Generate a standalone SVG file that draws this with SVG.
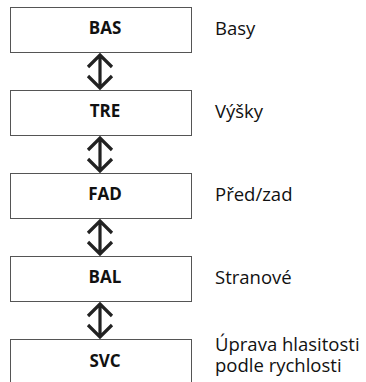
<svg xmlns="http://www.w3.org/2000/svg" width="366" height="382" viewBox="0 0 366 382">
<style>
.box{fill:#fff;stroke:#555;stroke-width:1}
.bt{font-family:"Open Sans","Noto Sans",sans-serif;font-weight:bold;font-size:17px;fill:#111;text-anchor:middle}
.lt{font-family:"Open Sans","Noto Sans",sans-serif;font-size:18.5px;fill:#111}
.arr{fill:none;stroke:#222;stroke-width:3.2;stroke-linejoin:miter;stroke-linecap:butt}
</style>
<rect width="366" height="382" fill="#fff"/>
<g id="connectors">
<path class="arr" d="M100 56V87M88 67L100 55L112 67M88 76L100 88L112 76"/>
<path class="arr" d="M100 139V170M88 150L100 138L112 150M88 159L100 171L112 159"/>
<path class="arr" d="M100 222V253M88 233L100 221L112 233M88 242L100 254L112 242"/>
<path class="arr" d="M100 305V336M88 316L100 304L112 316M88 325L100 337L112 325"/>
</g>
<g id="bas"><rect class="box" x="10.5" y="7.5" width="181" height="45"/><text class="bt" x="105" y="34">BAS</text><text class="lt" x="215" y="35">Basy</text></g>
<g id="tre"><rect class="box" x="10.5" y="90.5" width="181" height="45"/><text class="bt" x="105" y="117">TRE</text><text class="lt" x="215" y="118">Výšky</text></g>
<g id="fad"><rect class="box" x="10.5" y="173.5" width="181" height="45"/><text class="bt" x="105" y="200">FAD</text><text class="lt" x="215" y="201">Před/zad</text></g>
<g id="bal"><rect class="box" x="10.5" y="256.5" width="181" height="45"/><text class="bt" x="105" y="283">BAL</text><text class="lt" x="215" y="284">Stranové</text></g>
<g id="svc"><rect class="box" x="10.5" y="339.5" width="181" height="50"/><text class="bt" x="105" y="367">SVC</text><text class="lt" x="215" y="351">Úprava hlasitosti</text><text class="lt" x="215" y="372">podle rychlosti</text></g>
</svg>
